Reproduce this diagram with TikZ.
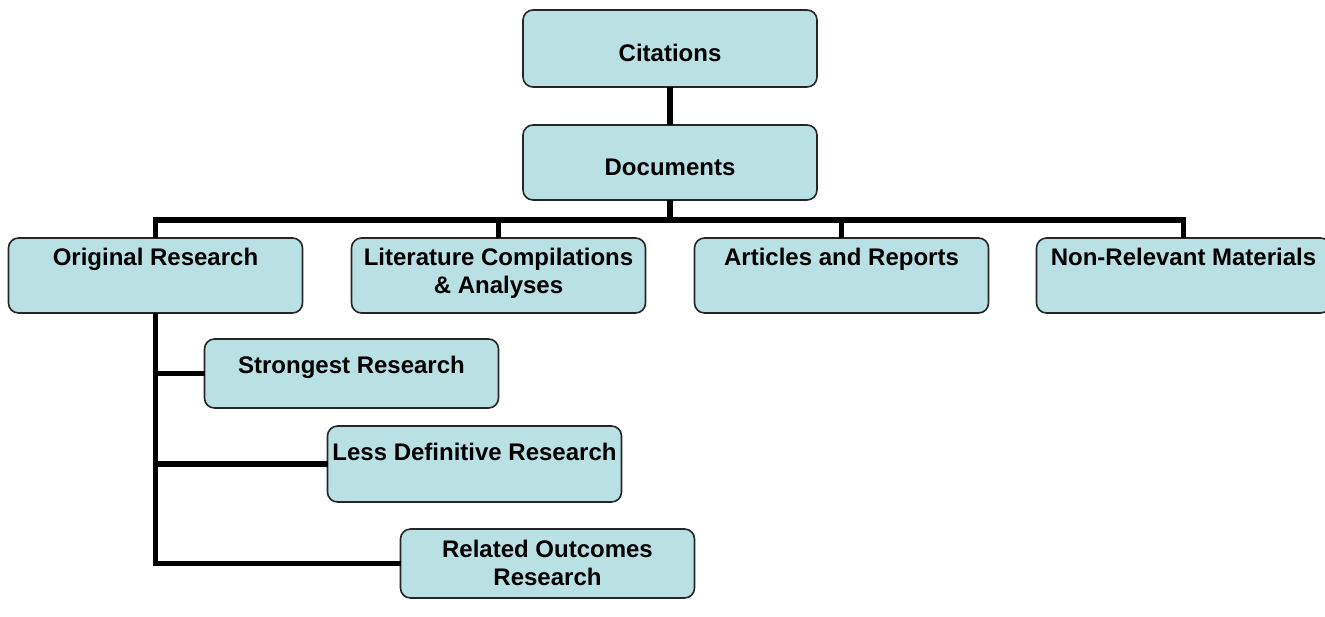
\documentclass[tikz,border=0pt]{standalone}
\usepackage{fontspec}
\setmainfont{Liberation Sans}
\definecolor{boxfill}{RGB}{185,224,226}
\begin{document}
\begin{tikzpicture}[x=0.5pt,y=-0.5pt,
  box/.style={draw=black!85, line width=0.8pt, fill=boxfill, rounded corners=5pt,
    minimum width=147pt, minimum height=37.5pt, inner sep=0pt, outer sep=0pt},
  lbl/.style={font=\bfseries\fontsize{12}{14.2}\selectfont, align=center, inner sep=0pt},
  conn/.style={line width=2.6pt, line join=miter}]
\useasboundingbox (0,0) rectangle (1325,616);
\fill[white] (0,0) rectangle (1325,616);
% coordinate of the bus
\coordinate (bus) at (670,220);
% boxes
\node[box, minimum height=38.5pt] (cit) at (670,48.5) {};
\node[box] (doc) at (670,162.5) {};
\node[box] (orig) at (155.5,275.5) {};
\node[box] (lit) at (498.5,275.5) {};
\node[box] (art) at (841.5,275.5) {};
\node[box] (non) at (1183.5,275.5) {};
\node[box, minimum height=34.5pt] (str) at (351.5,373.5) {};
\node[box, minimum height=38pt] (less) at (474.5,464) {};
\node[box, minimum height=34.5pt] (rel) at (547.5,563.5) {};
% connectors
\draw[conn] (cit.south) -- (doc.north);
\draw[conn] (doc.south) -- (doc.south |- bus);
\draw[conn] (orig.north) |- (non.north |- bus) -- (non.north);
\draw[conn] (lit.north) -- (lit.north |- bus);
\draw[conn] (art.north) -- (art.north |- bus);
\draw[conn] (orig.south) |- (rel.west);
\draw[conn] (orig.south |- str.west) -- (str.west);
\draw[conn] (orig.south |- less.west) -- (less.west);
% labels
\node[lbl, anchor=base] (cit-t) at (670,61) {Citations};
\node[lbl, anchor=base] (doc-t) at (670,175) {Documents};
\node[lbl, anchor=base] (orig-t) at (155.5,265) {Original Research};
\node[lbl] (lit-t) at (498.5,273.5) {Literature Compilations\\\& Analyses};
\node[lbl, anchor=base] (art-t) at (841.5,265) {Articles and Reports};
\node[lbl, anchor=base] (non-t) at (1183.5,265) {Non-Relevant Materials};
\node[lbl, anchor=base] (str-t) at (351.5,373) {Strongest Research};
\node[lbl, anchor=base] (less-t) at (474.5,460) {Less Definitive Research};
\node[lbl] (rel-t) at (547.5,563) {Related Outcomes\\Research};
\end{tikzpicture}
\end{document}
